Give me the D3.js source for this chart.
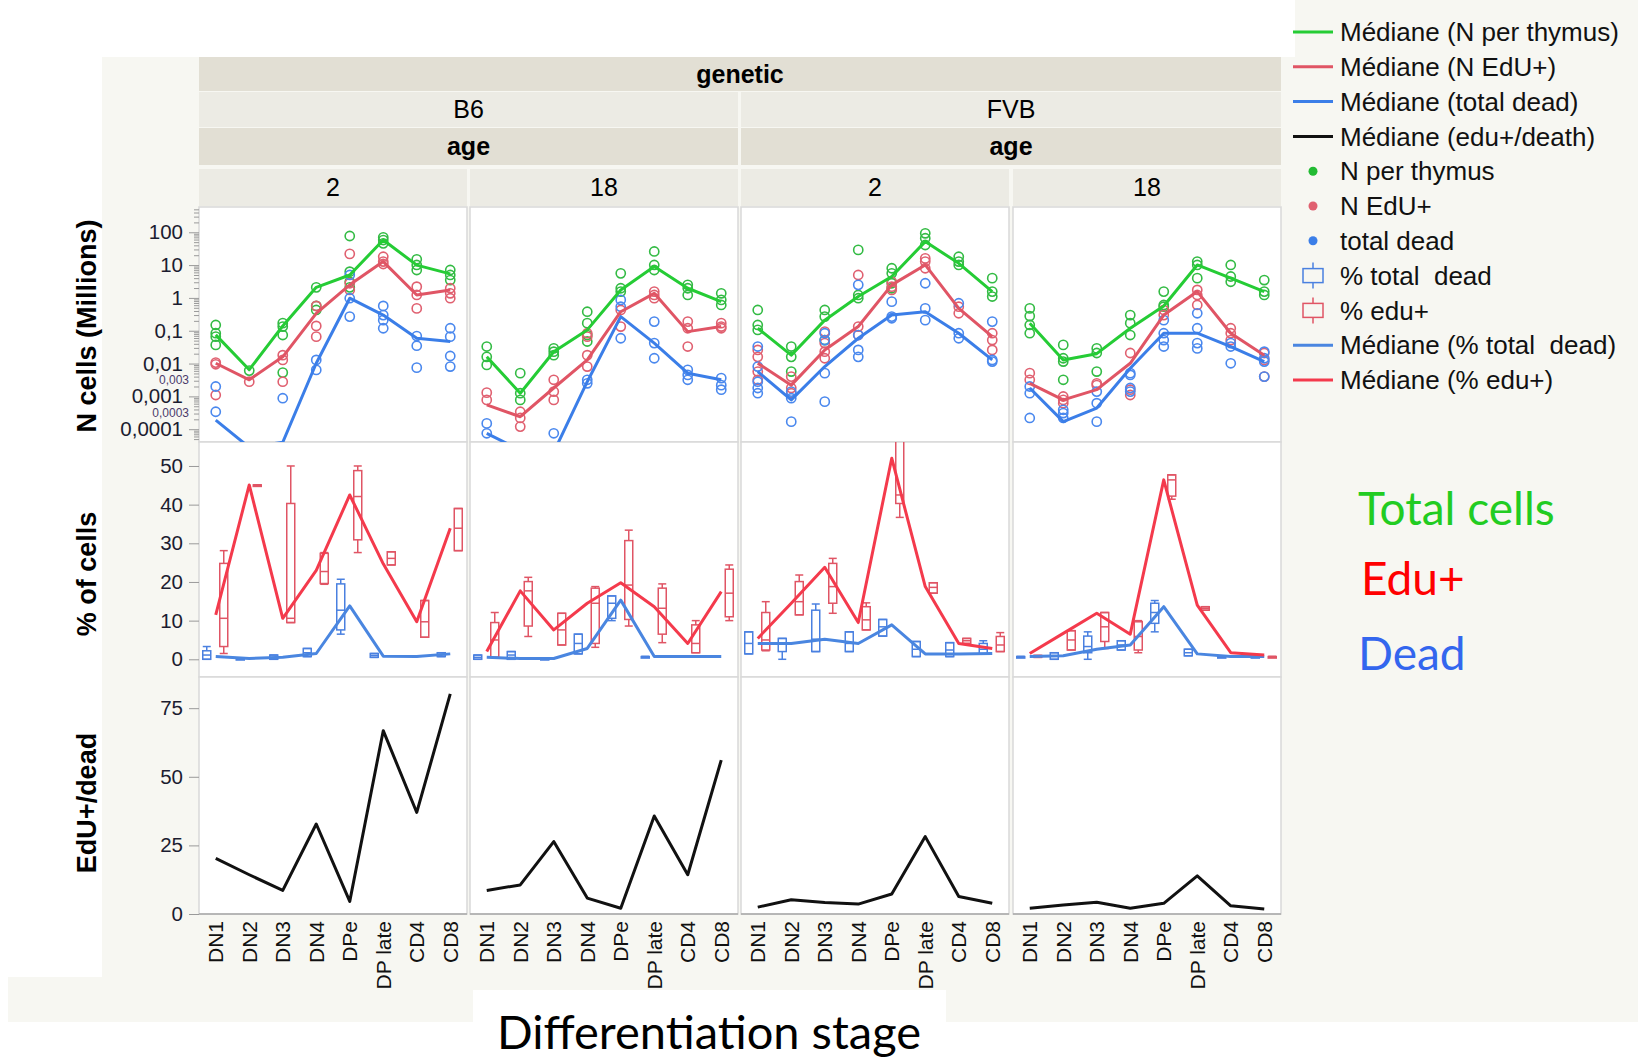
<!DOCTYPE html>
<html>
<head>
<meta charset="utf-8">
<script src="https://cdn.jsdelivr.net/npm/d3@7"></script>
<style>
  body { margin: 0; background: #fff; }
  svg { display: block; font-family: "Liberation Sans", Arial, sans-serif; }
</style>
</head>
<body>
<svg id="chart" width="1638" height="1058"></svg>
<script>
// ---- categories / facets
const stages = ['DN1', 'DN2', 'DN3', 'DN4', 'DPe', 'DP late', 'CD4', 'CD8'];
const genetics = ['B6', 'FVB'];
const ages = ['2', '18'];
const panelKeys = [['B6', '2'], ['B6', '18'], ['FVB', '2'], ['FVB', '18']];

// ---- tick labels
const logTicks = [100, 10, 1, 0.1, 0.01, 0.001, 0.0001];
const logTickLabels = ['100', '10', '1', '0,1', '0,01', '0,001', '0,0001'];
const logSmallTicks = [0.003, 0.0003];
const logSmallLabels = ['0,003', '0,0003'];
const pctTicks = [0, 10, 20, 30, 40, 50];
const ratioTicks = [0, 25, 50, 75];

// ---- N cells (millions): medians per panel
const medThymus = [
  [0.075, 0.0065, 0.14, 2.1, 5.0, 58, 10, 5.4],
  [0.016, 0.00125, 0.023, 0.106, 1.75, 9.0, 1.97, 0.77],
  [0.119, 0.018, 0.21, 1.1, 4.5, 52, 11.3, 1.56],
  [0.17, 0.0129, 0.02, 0.119, 0.57, 10.1, 4.0, 1.56]
];
const medEdu = [
  [0.0102, 0.0032, 0.016, 0.34, 2.5, 12.8, 1.23, 1.75],
  [0.00055, 0.00024, 0.0018, 0.0129, 0.38, 1.38, 0.094, 0.134],
  [0.0102, 0.0022, 0.026, 0.134, 2.5, 10.1, 0.48, 0.066],
  [0.0025, 0.00078, 0.0016, 0.0102, 0.30, 1.56, 0.084, 0.018]
];
const medDead = [
  [0.00019, 0.000028, 0.00004, 0.0102, 0.98, 0.30, 0.059, 0.047],
  [0.000075, 0.000023, 0.00002, 0.0028, 0.27, 0.042, 0.0051, 0.0032],
  [0.0057, 0.00078, 0.0081, 0.059, 0.30, 0.38, 0.084, 0.0129],
  [0.0018, 0.00017, 0.00044, 0.0072, 0.084, 0.084, 0.033, 0.0115]
];

// ---- N cells (millions): individual mice
const ptsThymus = [
  [[0.15, 0.084, 0.066, 0.037], [0.0061], [0.17, 0.134, 0.074, 0.0053], [2.1, 0.57, 0.43],
   [77, 6.3, 3.1, 2.1], [70, 58, 46], [15, 10.1, 7.1], [7.1, 5.0, 3.5]],
  [[0.033, 0.016, 0.0091], [0.0051, 0.00125, 0.00078], [0.029, 0.023, 0.018], [0.38, 0.17, 0.074, 0.047],
   [5.6, 1.97, 1.56], [26, 10.1, 7.1], [2.5, 1.97, 1.23], [1.38, 0.87, 0.61]],
  [[0.43, 0.15, 0.106], [0.033, 0.016, 0.0057], [0.43, 0.27, 0.052], [29, 1.23, 0.98],
   [8.0, 5.6, 2.8, 1.97], [93, 66, 41], [18, 12.8, 10.1], [4.0, 1.56, 1.1]],
  [[0.48, 0.28, 0.15, 0.084], [0.037, 0.0145, 0.0115, 0.0032], [0.029, 0.021, 0.0057], [0.30, 0.17, 0.074],
   [1.56, 0.61, 0.54], [12.8, 10.1, 4.0], [10.1, 4.5, 3.1], [3.5, 1.56, 1.23]]
];
const ptsEdu = [
  [[0.0107, 0.0095, 0.0011], [0.0028], [0.018, 0.0129, 0.0028], [0.57, 0.14, 0.066],
   [22, 2.8, 1.75], [18, 12.8, 10.8], [2.2, 1.23, 0.48], [1.97, 1.38, 0.98]],
  [[0.0013, 0.00078], [0.00034, 0.00022, 0.00012], [0.0032, 0.0014, 0.00078], [0.084, 0.066, 0.018, 0.0081],
   [0.43, 0.134], [1.56, 1.23, 0.98], [0.19, 0.119, 0.033], [0.17, 0.134, 0.119]],
  [[0.026, 0.016, 0.0057, 0.0032], [0.004, 0.0018, 0.00125], [0.094, 0.042, 0.023, 0.0145], [5.0, 0.134, 0.074],
   [3.1, 2.2, 1.75], [16, 12.8, 8.0], [0.54, 0.34], [0.084, 0.052, 0.026]],
  [[0.0051, 0.0032], [0.00099, 0.00078, 0.00062], [0.0025, 0.0022], [0.021, 0.0016, 0.0011],
   [0.43, 0.30], [1.75, 1.23, 0.61], [0.119, 0.084, 0.052], [0.021, 0.0129, 0.004]]
];
const ptsDead = [
  [[0.002, 0.00034], [], [0.00088], [0.0129, 0.0064],
   [5.0, 0.98, 0.27], [0.57, 0.30, 0.21, 0.119], [0.069, 0.035, 0.0075], [0.119, 0.066, 0.017, 0.0081]],
  [[0.00015, 0.000075], [], [0.000075], [0.0032, 0.0025],
   [0.87, 0.54, 0.059], [0.19, 0.042, 0.0145], [0.0064, 0.0045, 0.0032], [0.0036, 0.0022, 0.0016]],
  [[0.033, 0.0081, 0.0028, 0.0018, 0.00125], [0.0014, 0.00088, 0.00017], [0.084, 0.052, 0.0051, 0.00069], [2.5, 0.074, 0.026, 0.016],
   [0.77, 0.27, 0.24], [2.8, 0.48, 0.21], [0.69, 0.084, 0.059], [0.19, 0.0129, 0.0115]],
  [[0.002, 0.00125, 0.00022], [0.00039, 0.00031, 0.00022], [0.0014, 0.00062, 0.00017], [0.0051, 0.0045, 0.0018, 0.0014],
   [0.21, 0.084, 0.052, 0.033], [0.34, 0.119, 0.042, 0.029], [0.042, 0.033, 0.0102], [0.023, 0.0145, 0.0115, 0.004]]
];

// ---- % of cells: box plots [low whisker, q1, median, q3, high whisker]
const boxEdu = [
  [[1.5, 3.3, 10.6, 24.8, 28.1], [45.1, 45.1, 45.1, 45.1, 45.1], [9.5, 9.5, 10.6, 40.3, 50], [19.4, 19.6, 22.7, 27.4, 27.6],
   [27.6, 30.9, 42.1, 48.8, 50], [24.4, 24.4, 26.1, 27.8, 27.8], [5.7, 5.7, 9.7, 15.2, 15.2], [28.1, 28.1, 33.9, 39.0, 39.0]],
  [[0.5, 0.5, 5.0, 9.5, 12.1], [5.9, 8.6, 17.7, 20.1, 21.2], [3.7, 3.7, 7.6, 11.9, 11.9], [3.1, 4.1, 14.5, 18.4, 18.8],
   [8.6, 10.3, 19.2, 30.7, 33.4], [4.3, 6.5, 13.2, 18.4, 19.5], [1.7, 1.7, 4.1, 8.9, 10.0], [10.0, 11.0, 17.1, 23.3, 24.4]],
  [[2.2, 2.4, 5.0, 12.1, 14.9], [11.5, 11.5, 14.9, 20.1, 21.8], [11.9, 14.5, 18.8, 24.8, 26.1], [7.6, 7.6, 10.2, 13.6, 14.6],
   [36.7, 40.3, 42.5, 58, 62], [17.1, 17.1, 18.6, 19.8, 19.8], [4.1, 4.1, 4.8, 5.4, 5.4], [2.0, 2.0, 3.7, 5.9, 6.9]],
  [[0.5, 0.5, 0.7, 1.0, 1.0], [2.4, 2.4, 5.0, 7.4, 7.4], [2.8, 4.6, 8.4, 12.1, 12.1], [1.7, 2.4, 5.9, 9.7, 10.0],
   [41.4, 42.2, 46.4, 47.7, 47.7], [12.7, 12.7, 13.2, 13.6, 13.6], null, [0.7, 0.7, 0.7, 0.7, 0.7]]
];
const boxDead = [
  [[0, 0, 1.1, 2.2, 3.3], [0.2, 0.2, 0.2, 0.2, 0.2], [0, 0, 0.5, 1.1, 1.1], [0.7, 0.7, 1.7, 2.8, 2.8],
   [6.5, 7.6, 12.7, 19.5, 20.7], [0.5, 0.5, 1.0, 1.5, 1.5], null, [0.7, 0.7, 1.2, 1.7, 1.7]],
  [[0, 0, 0.5, 1.1, 1.1], [0, 0, 1.1, 2.0, 2.0], [0.2, 0.2, 0.2, 0.2, 0.2], [1.4, 1.4, 4.1, 6.5, 6.5],
   [10.0, 10.6, 14.5, 16.4, 16.4], [0.7, 0.7, 0.7, 0.7, 0.7], null, null],
  [[1.4, 1.4, 4.1, 7.1, 7.1], [0, 2.0, 4.1, 5.4, 5.4], [2.0, 2.0, 5.2, 12.7, 14.3], [2.0, 2.0, 4.1, 7.1, 7.1],
   [6.0, 6.0, 8.4, 10.3, 10.3], [0.7, 0.7, 2.6, 4.6, 4.6], [0.7, 0.7, 2.4, 4.3, 4.3], [1.4, 1.4, 2.6, 4.1, 4.8]],
  [[0.7, 0.7, 0.7, 0.7, 0.7], [0, 0, 0.9, 1.7, 1.7], [0, 1.7, 3.3, 6.0, 7.1], [2.4, 2.4, 3.7, 4.8, 4.8],
   [7.1, 9.3, 12.1, 14.5, 15.2], [0.9, 0.9, 1.7, 2.6, 2.6], [0.7, 0.7, 0.7, 0.7, 0.7], [0.7, 0.7, 0.7, 0.7, 0.7]]
];
const medPctEdu = [
  [11.5, 45.1, 10.6, 23, 42.5, 24.7, 9.7, 33.9],
  [2.0, 17.7, 7.6, 14.5, 19.8, 13.6, 4.1, 17.5],
  [5.4, 14.5, 23.8, 9.5, 52, 18.8, 4.1, 2.8],
  [1.5, 6.7, 11.9, 6.5, 46.4, 14.0, 1.7, 1.1]
];
const medPctDead = [
  [0.7, 0.2, 0.5, 1.5, 13.8, 0.8, 0.7, 1.4],
  [0.5, 0.2, 0.2, 2.8, 15.3, 0.7, 0.7, 0.7],
  [4.1, 4.1, 5.2, 4.1, 8.9, 1.4, 1.4, 1.5],
  [0.7, 0.9, 2.6, 3.7, 13.6, 1.4, 0.7, 0.7]
];

// ---- EdU+/dead median ratio
const medRatio = [
  [20.3, 14.3, 8.6, 32.8, 4.6, 66.8, 37, 80.2],
  [8.6, 10.6, 26.4, 5.8, 2.1, 35.7, 14.3, 56.1],
  [2.5, 5.2, 4.2, 3.6, 7.3, 28.2, 6.4, 3.9],
  [2.1, 3.3, 4.3, 2.1, 3.9, 13.9, 3.0, 1.8]
];

// ---- legend
const legendItems = [
  {type: 'line', color: '#25cc35', label: 'Médiane (N per thymus)'},
  {type: 'line', color: '#e05565', label: 'Médiane (N EdU+)'},
  {type: 'line', color: '#3b7ee8', label: 'Médiane (total dead)'},
  {type: 'line', color: '#111111', label: 'Médiane (edu+/death)'},
  {type: 'dot', color: '#22bb33', label: 'N per thymus'},
  {type: 'dot', color: '#e06070', label: 'N EdU+'},
  {type: 'dot', color: '#3b7ee8', label: 'total dead'},
  {type: 'box', color: '#4a80e0', label: '% total  dead'},
  {type: 'box', color: '#e05565', label: '% edu+'},
  {type: 'line', color: '#4a86e0', label: 'Médiane (% total  dead)'},
  {type: 'line', color: '#f43a4c', label: 'Médiane (% edu+)'}
];
const noteLabels = ['Total cells', 'Edu+', 'Dead'];
const noteColors = ['#22cc22', '#ff0000', '#3366ee'];

// ---------------------------------------------------------------
const svg = d3.select('#chart');
const
  colX = [199, 470, 741, 1013],
  colW = 268,
  topRow = [207, 442],
  midRow = [442, 677],
  botRow = [677, 914]
  ;

// backgrounds
svg.append('rect').attr('x', 102).attr('y', 57).attr('width', 1536).attr('height', 920).attr('fill', '#f7f7f2');
svg.append('rect').attr('x', 1295).attr('y', 0).attr('width', 343).attr('height', 57).attr('fill', '#f7f7f2');
svg.append('rect').attr('x', 8).attr('y', 977).attr('width', 1630).attr('height', 45).attr('fill', '#f7f7f2');
svg.append('rect').attr('x', 473).attr('y', 990).attr('width', 473).attr('height', 68).attr('fill', '#ffffff');

// header strips
const header = svg.append('g').attr('font-size', 25);
header.append('rect').attr('x', 199).attr('y', 57).attr('width', 1082).attr('height', 34).attr('fill', '#e2dfd4');
header.append('text').attr('x', 740).attr('y', 74).attr('text-anchor', 'middle').attr('dy', '0.35em')
  .attr('font-weight', 'bold').text('genetic');
genetics.forEach((g, gi) => {
  let x0 = gi ? 741 : 199, w = gi ? 540 : 539;
  header.append('rect').attr('x', x0).attr('y', 92).attr('width', w).attr('height', 35).attr('fill', '#ecebe4');
  header.append('text').attr('x', x0 + w / 2).attr('y', 109).attr('text-anchor', 'middle').attr('dy', '0.35em')
    .text(g);
  header.append('rect').attr('x', x0).attr('y', 128).attr('width', w).attr('height', 37).attr('fill', '#e2dfd4');
  header.append('text').attr('x', x0 + w / 2).attr('y', 146).attr('text-anchor', 'middle').attr('dy', '0.35em')
    .attr('font-weight', 'bold').text('age');
});
panelKeys.forEach((k, p) => {
  header.append('rect').attr('x', colX[p]).attr('y', 169).attr('width', colW).attr('height', 37).attr('fill', '#ecebe4');
  header.append('text').attr('x', colX[p] + colW / 2).attr('y', 187).attr('text-anchor', 'middle').attr('dy', '0.35em')
    .text(k[1]);
});

// scales
const yTop = d3.scaleLog().domain([Math.pow(10, -4.39), Math.pow(10, 2.77)]).range([topRow[1], topRow[0]]);
const yMid = d3.scaleLinear().domain([-4.58, 56.2]).range([midRow[1], midRow[0]]);
const yBot = d3.scaleLinear().domain([0, 86]).range([botRow[1], botRow[0] + 1]);

const defs = svg.append('defs');

panelKeys.forEach((k, p) => {
  let
    x = d3.scalePoint().domain(stages).range([colX[p], colX[p] + colW]).padding(0.5),
    g = svg.append('g')
    ;
  [topRow, midRow, botRow].forEach((r, ri) => {
    defs.append('clipPath').attr('id', `clip-${p}-${ri}`)
      .append('rect').attr('x', colX[p]).attr('y', r[0]).attr('width', colW).attr('height', r[1] - r[0]);
    g.append('rect').attr('x', colX[p]).attr('y', r[0]).attr('width', colW).attr('height', r[1] - r[0])
      .attr('fill', '#fff').attr('stroke', '#d9d9d9').attr('stroke-width', 1.5);
  });

  // --- top row: counts, log scale
  const top = g.append('g').attr('clip-path', `url(#clip-${p}-0)`);
  const logLine = d3.line().x((d, i) => x(stages[i])).y(d => yTop(d));
  [[ptsThymus, '#33bb44'], [ptsEdu, '#e06070'], [ptsDead, '#4a88ee']].forEach(([pts, c]) => {
    pts[p].forEach((vals, i) => {
      top.selectAll(null).data(vals).enter().append('circle')
        .attr('cx', x(stages[i])).attr('cy', d => yTop(d)).attr('r', 4.6)
        .attr('fill', 'none').attr('stroke', c).attr('stroke-width', 1.6);
    });
  });
  [[medDead, '#3b7ee8'], [medEdu, '#e05565'], [medThymus, '#25cc35']].forEach(([m, c]) => {
    top.append('path').datum(m[p]).attr('d', logLine)
      .attr('fill', 'none').attr('stroke', c).attr('stroke-width', 3).attr('stroke-linejoin', 'round');
  });

  // --- middle row: % of cells, box plots + median lines
  const mid = g.append('g').attr('clip-path', `url(#clip-${p}-1)`);
  const pctLine = d3.line().x((d, i) => x(stages[i])).y(d => yMid(d));
  const drawBoxes = (boxes, dx, c) => {
    boxes[p].forEach((b, i) => {
      if (!b) return;
      let cx = x(stages[i]) + dx, bw = 8;
      mid.append('line').attr('x1', cx).attr('x2', cx).attr('y1', yMid(b[4])).attr('y2', yMid(b[3]))
        .attr('stroke', c).attr('stroke-width', 1.5);
      mid.append('line').attr('x1', cx).attr('x2', cx).attr('y1', yMid(b[1])).attr('y2', yMid(b[0]))
        .attr('stroke', c).attr('stroke-width', 1.5);
      [b[0], b[4]].forEach(v => {
        mid.append('line').attr('x1', cx - bw / 2).attr('x2', cx + bw / 2).attr('y1', yMid(v)).attr('y2', yMid(v))
          .attr('stroke', c).attr('stroke-width', 1.5);
      });
      mid.append('rect').attr('x', cx - bw / 2).attr('y', yMid(b[3])).attr('width', bw)
        .attr('height', Math.max(yMid(b[1]) - yMid(b[3]), 1.5))
        .attr('fill', 'none').attr('stroke', c).attr('stroke-width', 1.5);
      mid.append('line').attr('x1', cx - bw / 2).attr('x2', cx + bw / 2).attr('y1', yMid(b[2])).attr('y2', yMid(b[2]))
        .attr('stroke', c).attr('stroke-width', 1.5);
    });
  };
  drawBoxes(boxDead, -9, '#4a80e0');
  drawBoxes(boxEdu, 8, '#e05565');
  mid.append('path').datum(medPctDead[p]).attr('d', pctLine)
    .attr('fill', 'none').attr('stroke', '#4a86e0').attr('stroke-width', 3).attr('stroke-linejoin', 'round');
  mid.append('path').datum(medPctEdu[p]).attr('d', pctLine)
    .attr('fill', 'none').attr('stroke', '#f43a4c').attr('stroke-width', 3).attr('stroke-linejoin', 'round');

  // --- bottom row: EdU+/dead
  const bot = g.append('g').attr('clip-path', `url(#clip-${p}-2)`);
  bot.append('path').datum(medRatio[p])
    .attr('d', d3.line().x((d, i) => x(stages[i])).y(d => yBot(d)))
    .attr('fill', 'none').attr('stroke', '#111').attr('stroke-width', 3).attr('stroke-linejoin', 'round');

  // x axis line + stage labels
  g.append('line').attr('x1', colX[p]).attr('x2', colX[p] + colW).attr('y1', botRow[1]).attr('y2', botRow[1])
    .attr('stroke', '#a8a8a8').attr('stroke-width', 1.5);
  g.selectAll('text.stage').data(stages).enter().append('text')
    .attr('class', 'stage')
    .attr('transform', d => `translate(${x(d)},921) rotate(-90)`)
    .attr('text-anchor', 'end').attr('dy', '0.36em')
    .attr('font-size', 21).attr('fill', '#111')
    .text(d => d);
});

// y axes
const axes = svg.append('g');
const styleAxis = sel => {
  sel.select('.domain').remove();
  sel.selectAll('.tick line').attr('stroke', '#9a9a9a');
  sel.selectAll('.tick text').attr('fill', '#1c1c30').attr('font-size', 20.5)
    .attr('font-family', '"Liberation Sans", Arial, sans-serif');
};
let minorLog = [];
d3.range(-5, 3).forEach(e => d3.range(2, 10).forEach(m => minorLog.push(m * Math.pow(10, e))));
minorLog = minorLog.filter(v => v >= yTop.domain()[0] && v <= yTop.domain()[1]);
axes.append('g').attr('transform', 'translate(199,0)')
  .call(d3.axisLeft(yTop).tickValues(minorLog).tickSize(5).tickFormat(''))
  .call(styleAxis);
axes.append('g').attr('transform', 'translate(199,0)')
  .call(d3.axisLeft(yTop).tickValues(logTicks).tickSize(10).tickPadding(6)
    .tickFormat((d, i) => logTickLabels[i]))
  .call(styleAxis);
axes.selectAll(null).data(logSmallTicks).enter().append('text')
  .attr('x', 189).attr('y', d => yTop(d)).attr('dy', '0.3em').attr('text-anchor', 'end')
  .attr('font-size', 12).attr('fill', '#4b3b6b')
  .text((d, i) => logSmallLabels[i]);
axes.append('g').attr('transform', 'translate(199,0)')
  .call(d3.axisLeft(yMid).tickValues(pctTicks).tickSize(10).tickPadding(6))
  .call(styleAxis);
axes.append('g').attr('transform', 'translate(199,0)')
  .call(d3.axisLeft(yBot).tickValues(ratioTicks).tickSize(10).tickPadding(6))
  .call(styleAxis);

// y titles
[['N cells (Millions)', 326], ['% of cells', 574], ['EdU+/dead', 803]].forEach(([t, cy]) => {
  svg.append('text').attr('transform', `translate(87,${cy}) rotate(-90)`)
    .attr('text-anchor', 'middle').attr('dy', '0.35em')
    .attr('font-size', 27).attr('font-weight', 'bold').attr('fill', '#000').text(t);
});

// legend
const legend = svg.append('g').attr('transform', 'translate(1293,32)');
legendItems.forEach((it, i) => {
  let row = legend.append('g').attr('transform', `translate(0,${i * 34.8})`);
  if (it.type === 'line') {
    row.append('line').attr('x1', 0).attr('x2', 40).attr('stroke', it.color).attr('stroke-width', 3);
  } else if (it.type === 'dot') {
    row.append('circle').attr('cx', 20).attr('r', 4.5).attr('fill', it.color);
  } else {
    row.append('line').attr('x1', 20).attr('x2', 20).attr('y1', -13).attr('y2', 13).attr('stroke', it.color).attr('stroke-width', 1.5);
    row.append('rect').attr('x', 10).attr('y', -7).attr('width', 20).attr('height', 14)
      .attr('fill', '#f7f7f2').attr('stroke', it.color).attr('stroke-width', 1.5);
  }
  row.append('text').attr('x', 47).attr('dy', '0.35em').attr('font-size', 26).attr('fill', '#111')
    .style('white-space', 'pre').text(it.label);
});

// colour notes and x title
const notes = svg.append('g').attr('font-family', 'Lato, "Open Sans", sans-serif').attr('font-size', 46);
[[1358, 525], [1361, 595], [1358, 670]].forEach(([nx, ny], i) => {
  notes.append('text').attr('x', nx).attr('y', ny).attr('fill', noteColors[i]).text(noteLabels[i]);
});
notes.append('text').attr('x', 497).attr('y', 1049).attr('font-size', 47).attr('fill', '#000').text('Differentiation stage');
</script>
</body>
</html>
